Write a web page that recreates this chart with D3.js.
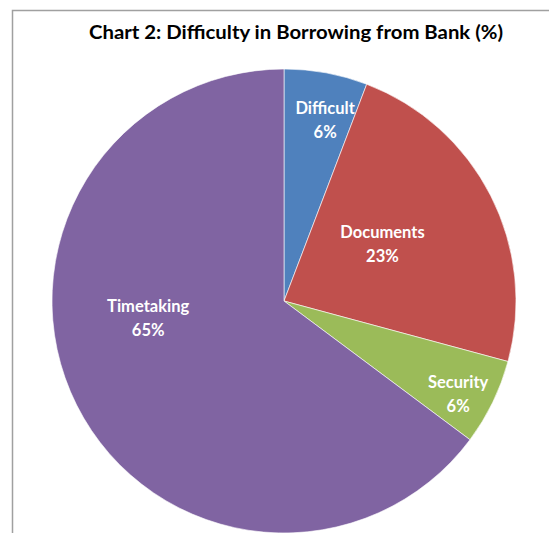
<!DOCTYPE html>
<html>
<head>
<meta charset="utf-8">
<script src="https://cdn.jsdelivr.net/npm/d3@7"></script>
<style>
  body { margin: 0; background: #fff; }
  .lbl { font-family: Lato, "Open Sans", sans-serif; font-weight: bold; font-size: 16.5px; fill: #fff; text-anchor: middle; }
  .title { font-family: Lato, "Open Sans", sans-serif; font-weight: bold; font-size: 18px; fill: #000; text-anchor: middle; }
</style>
</head>
<body>
<script>
// data
const categories = ["Difficult", "Documents", "Security", "Timetaking"];
const values = [5.8, 23.4, 6.0, 64.8];
const colors = ["#4F81BD", "#C0504D", "#9BBB59", "#8064A2"];
// excel "best fit" label spots: radius as fraction of pie radius, angle in degrees from 12 o'clock
const labelRadius = [0.80, 0.49, 0.85, 0.59];
const labelAngle = [12.8, 60, 118, 263];

const W = 549, H = 533;
const cx = 284, cy = 301, R = 232;

var svg = d3.select("body").append("svg")
    .attr("width", W).attr("height", H);

// chart frame (only top and left show in the crop)
svg.append("rect")
    .attr("x", 12.5).attr("y", 10.5)
    .attr("width", 600).attr("height", 600)
    .attr("fill", "none").attr("stroke", "#a0a0a0").attr("stroke-width", 1.5);

svg.append("text").attr("class", "title")
    .attr("x", 296).attr("y", 39)
    .attr("textLength", 414).attr("lengthAdjust", "spacingAndGlyphs")
    .text("Chart 2: Difficulty in Borrowing from Bank (%)");

var pie = d3.pie().sort(null).value(d => d)(values);
var arc = d3.arc().innerRadius(0).outerRadius(R);

var g = svg.append("g").attr("transform", "translate(" + cx + "," + cy + ")");

g.selectAll("path").data(pie).enter().append("path")
    .attr("d", arc)
    .attr("fill", (d, i) => colors[i])
    .attr("stroke", "#fff").attr("stroke-width", 0.6);

var total = d3.sum(values);
var labels = g.selectAll("g.l").data(pie).enter().append("g")
    .attr("class", "l")
    .attr("transform", function (d, i) {
        var a = labelAngle[i] * Math.PI / 180;
        var r = labelRadius[i] * R;
        return "translate(" + (r * Math.sin(a)) + "," + (-r * Math.cos(a)) + ")";
    });
labels.append("text").attr("class", "lbl").attr("y", -6)
    .text((d, i) => categories[i]);
labels.append("text").attr("class", "lbl").attr("y", 18)
    .text(d => Math.round(d.value / total * 100) + "%");
</script>
</body>
</html>
